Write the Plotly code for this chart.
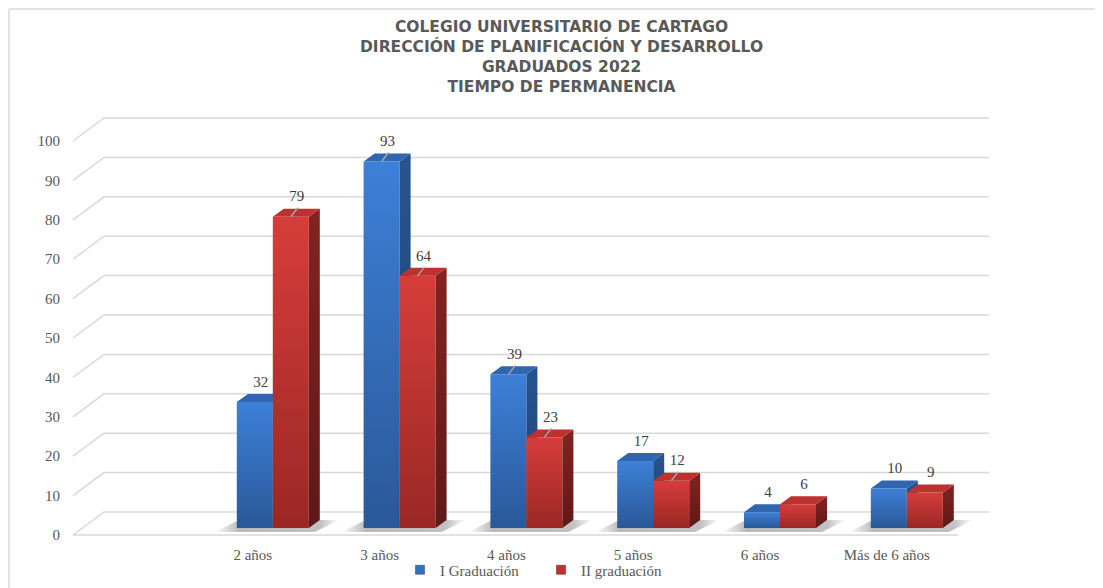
import plotly.graph_objects as go

# data (first slot is an empty category in the source sheet)
categories = ["", "2 años", "3 años", "4 años", "5 años", "6 años", "Más de 6 años"]
i_graduacion = [None, 32, 93, 39, 17, 4, 10]
ii_graduacion = [None, 79, 64, 23, 12, 6, 9]
y_ticks = list(range(0, 101, 10))

title_lines = ["COLEGIO UNIVERSITARIO DE CARTAGO",
               "DIRECCIÓN DE PLANIFICACIÓN Y DESARROLLO",
               "GRADUADOS 2022",
               "TIEMPO DE PERMANENCIA"]

# the page body keeps its 8px margin, so the figure sits 8px in from the window corner
PAGE_OFF = 8
W, H = 1103 - PAGE_OFF, 588 - PAGE_OFF
PX_X = 126.8   # pixels per category
PX_Y = 3.94    # pixels per unit of value
X0_PX = 126    # window pixel of category 0
Y0_PX = 535    # window pixel of value 0 (front wall)


def ux(px):
    return px / PX_X


def uy(px):
    return px / PX_Y


def fx(px):
    return (px - PAGE_OFF) / W


def fy(py):
    return 1 - (py - PAGE_OFF) / H


shift = ux(20)
bar_w = ux(36)
dep_x, dep_y = ux(11), uy(8)
base = uy(7)
floor_l, floor_r = ux(73 - X0_PX), ux(958 - X0_PX)
wall_dx, wall_dy = ux(31), uy(23)

grid_color = '#d9d9d9'
text_color = '#595959'
label_color = '#404040'
serif = 'Liberation Serif'

series = [
    dict(name='I Graduación', values=i_graduacion, side=-1,
         front=('#2a5898', '#3d80d8'), right=('#1c3f70', '#27548f'), top='#2f66ae',
         legend='#3470c0'),
    dict(name='II graduación', values=ii_graduacion, side=0,
         front=('#9a2725', '#d63d3a'), right=('#5e1918', '#82231f'), top='#bb322f',
         legend='#c0332f'),
]
leaders = {(0, 2), (1, 1), (1, 2), (0, 3), (1, 3), (1, 4)}

fig = go.Figure()

# gridlines: left wall diagonal + back wall line, plus the front floor edge
gx, gy = [floor_l, floor_r, None], [0, 0, None]
for v in y_ticks:
    gx += [floor_l, floor_l + wall_dx, floor_r + wall_dx, None]
    gy += [v, v + wall_dy, v + wall_dy, None]
fig.add_trace(go.Scatter(x=gx, y=gy, mode='lines', line=dict(color=grid_color, width=1.5),
                         hoverinfo='skip', showlegend=False))

# soft floor shadows under each pair of bars
for i, cat in enumerate(categories):
    if i_graduacion[i] is None:
        continue
    pc = i + shift
    sx0, sx1 = pc - bar_w - ux(22), pc + bar_w + ux(6)
    sy0, sy1 = uy(3), uy(15)
    fig.add_trace(go.Scatter(
        x=[sx0, sx1, sx1 + ux(24), sx0 + ux(24), sx0],
        y=[sy0, sy0, sy1, sy1, sy0],
        mode='lines', line=dict(width=0), fill='toself',
        fillgradient=dict(type='horizontal',
                          colorscale=[[0, 'rgba(80,80,80,0)'], [0.2, 'rgba(80,80,80,0.4)'],
                                      [0.85, 'rgba(80,80,80,0.35)'], [1, 'rgba(80,80,80,0)']]),
        hoverinfo='skip', showlegend=False))

# 3d-looking columns: front, right side and top faces
lab_x, lab_y, lab_t = [], [], []
lead_x, lead_y = [], []
for s_idx, s in enumerate(series):
    for i, v in enumerate(s['values']):
        if v is None:
            continue
        x0 = i + shift + s['side'] * bar_w
        x1 = x0 + bar_w
        y1 = base + v
        fig.add_trace(go.Scatter(
            x=[x0, x1, x1, x0, x0], y=[base, base, y1, y1, base],
            mode='lines', line=dict(width=0), fill='toself',
            fillgradient=dict(type='vertical',
                              colorscale=[[0, s['front'][0]], [1, s['front'][1]]]),
            name=s['name'], hovertemplate=f"{categories[i]}: {v}<extra>{s['name']}</extra>",
            showlegend=False))
        fig.add_trace(go.Scatter(
            x=[x1, x1 + dep_x, x1 + dep_x, x1, x1],
            y=[base, base + dep_y, y1 + dep_y, y1, base],
            mode='lines', line=dict(width=0), fill='toself',
            fillgradient=dict(type='vertical',
                              colorscale=[[0, s['right'][0]], [1, s['right'][1]]]),
            hoverinfo='skip', showlegend=False))
        fig.add_trace(go.Scatter(
            x=[x0, x0 + dep_x, x1 + dep_x, x1, x0],
            y=[y1, y1 + dep_y, y1 + dep_y, y1, y1],
            mode='lines', line=dict(width=0), fill='toself', fillcolor=s['top'],
            hoverinfo='skip', showlegend=False))
        fc = x0 + bar_w / 2
        lab_x.append(fc + ux(6))
        lab_y.append(y1 + uy(19))
        lab_t.append(str(v))
        if (s_idx, i) in leaders:
            lead_x += [fc, fc + ux(7), None]
            lead_y += [y1, y1 + uy(9), None]

fig.add_trace(go.Scatter(x=lead_x, y=lead_y, mode='lines', line=dict(color='#a6a6a6', width=1.5),
                         hoverinfo='skip', showlegend=False))
fig.add_trace(go.Scatter(x=lab_x, y=lab_y, text=lab_t, mode='text',
                         textfont=dict(family=serif, size=15, color=label_color),
                         hoverinfo='skip', showlegend=False))

# legend entries
for s in series:
    fig.add_trace(go.Scatter(x=[None], y=[None], mode='markers', name=s['name'],
                             marker=dict(symbol='square', size=9, color=s['legend'],
                                         line=dict(width=0.5, color=s['right'][0]))))

x_left_px = 68
y_bottom_px = 538
fig.update_xaxes(domain=[fx(x_left_px), 1],
                 range=[ux(x_left_px - X0_PX), ux(PAGE_OFF + W - X0_PX)],
                 tickvals=list(range(len(categories))), ticktext=categories,
                 showgrid=False, zeroline=False, showline=False, automargin=False,
                 ticks='outside', ticklen=3, tickcolor='rgba(0,0,0,0)',
                 tickfont=dict(family=serif, size=15, color=text_color), fixedrange=True)
fig.update_yaxes(domain=[fy(y_bottom_px), 1],
                 range=[uy(Y0_PX - y_bottom_px), uy(Y0_PX - PAGE_OFF)],
                 tickvals=y_ticks,
                 showgrid=False, zeroline=False, showline=False, automargin=False,
                 ticks='outside', ticklen=4, tickcolor='rgba(0,0,0,0)',
                 tickfont=dict(family=serif, size=15, color=text_color), fixedrange=True)

fig.add_annotation(text='<br>'.join(f'<b>{t}</b>' for t in title_lines),
                   x=fx(561), y=fy(57), xref='paper', yref='paper',
                   xanchor='center', yanchor='middle', showarrow=False, align='center',
                   font=dict(family='DejaVu Sans', size=15.5, color=text_color))

# chart area border (top and left edges)
fig.add_shape(type='line', xref='paper', yref='paper', x0=fx(PAGE_OFF + 1), x1=1.02,
              y0=fy(PAGE_OFF + 1), y1=fy(PAGE_OFF + 1), line=dict(color=grid_color, width=1.5))
fig.add_shape(type='line', xref='paper', yref='paper', x0=fx(PAGE_OFF + 1), x1=fx(PAGE_OFF + 1),
              y0=-0.02, y1=fy(PAGE_OFF + 1), line=dict(color=grid_color, width=1.5))

fig.update_layout(width=W, height=H, margin=dict(l=0, r=0, t=0, b=0),
                  plot_bgcolor='white', paper_bgcolor='white',
                  showlegend=True,
                  legend=dict(orientation='h', x=fx(400), xanchor='left', y=fy(570), yanchor='middle',
                              entrywidth=96, entrywidthmode='pixels',
                              font=dict(family=serif, size=15, color=text_color),
                              bgcolor='rgba(0,0,0,0)'),
                  hovermode='closest')

fig.write_html("out.html")
